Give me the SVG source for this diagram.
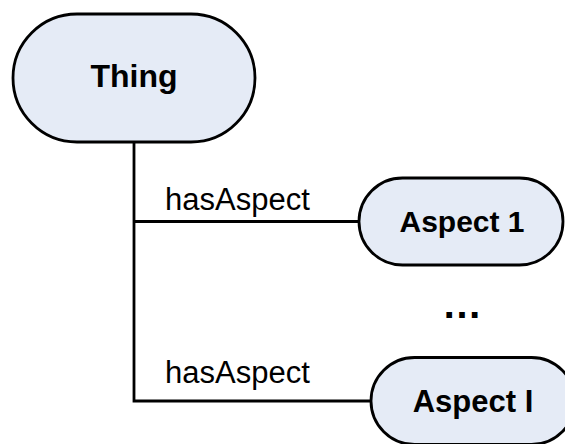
<svg xmlns="http://www.w3.org/2000/svg" width="565" height="444" viewBox="0 0 565 444">
<style>
.node{fill:#e5ebf6;stroke:#000;stroke-width:2.8}
.lbl{font-family:"Liberation Sans",Arial,sans-serif;font-weight:bold;fill:#000;text-anchor:middle}
.edge{fill:none;stroke:#000;stroke-width:2.8}
.elbl{font-family:"Liberation Sans",Arial,sans-serif;font-size:31px;fill:#000}
</style>
<rect width="565" height="444" fill="#fff"/>
<g id="connectors">
<polyline class="edge" points="134,142 134,401 371,401"/>
<line class="edge" x1="134" y1="221.5" x2="359" y2="221.5"/>
<text class="elbl" x="165" y="210">hasAspect</text>
<text class="elbl" x="165" y="383">hasAspect</text>
</g>
<g id="thing">
<rect class="node" x="13" y="14" width="242" height="128" rx="64" ry="64"/>
<text class="lbl" x="134" y="87" font-size="32">Thing</text>
</g>
<g id="aspect1">
<rect class="node" x="359" y="178" width="204" height="87" rx="43.5" ry="43.5"/>
<text class="lbl" x="462" y="232" font-size="30">Aspect 1</text>
</g>
<g id="ellipsis">
<text class="lbl" x="462" y="318" font-size="40">…</text>
</g>
<g id="aspectI">
<rect class="node" x="371" y="357.5" width="204" height="87" rx="43.5" ry="43.5"/>
<text class="lbl" x="473" y="412" font-size="31">Aspect I</text>
</g>
</svg>
